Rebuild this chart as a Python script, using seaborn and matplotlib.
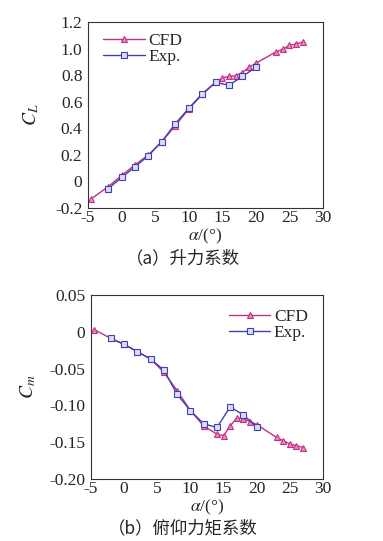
import numpy as np
import pandas as pd
import matplotlib
matplotlib.use('Agg')
import matplotlib.pyplot as plt
from matplotlib.ticker import MultipleLocator
import seaborn as sns

# ── Data ─────────────────────────────────────────────────────────────────────
alpha_cfd = [-4.5, -2, 0, 2, 4, 6, 8, 10, 12, 14, 15, 16, 17, 18, 19, 20, 23, 24, 25, 26, 27]
cl_cfd = [-0.13, -0.04, 0.045, 0.125, 0.20, 0.30, 0.42, 0.545, 0.655, 0.745, 0.78, 0.79, 0.795, 0.82, 0.86, 0.89,
          0.975, 0.995, 1.025, 1.035, 1.05]
cm_cfd = [0.003, -0.009, -0.017, -0.027, -0.037, -0.055, -0.080, -0.107, -0.128, -0.139, -0.141, -0.128,
          -0.117, -0.118, -0.122, -0.126, -0.1435, -0.148, -0.1525, -0.1545, -0.1575]

alpha_exp = [-2, 0, 2, 4, 6, 8, 10, 12, 14, 16, 18, 20]
cl_exp = [-0.055, 0.03, 0.11, 0.195, 0.30, 0.435, 0.55, 0.66, 0.745, 0.725, 0.79, 0.86]
cm_exp = [-0.009, -0.017, -0.027, -0.037, -0.052, -0.085, -0.107, -0.125, -0.130, -0.102, -0.113, -0.129]

cl_ticks = [-0.2, 0, 0.2, 0.4, 0.6, 0.8, 1.0, 1.2]
cl_ticklabels = ['-0.2', '0', '0.2', '0.4', '0.6', '0.8', '1.0', '1.2']
cm_ticks = [-0.2, -0.15, -0.1, -0.05, 0, 0.05]
cm_ticklabels = ['-0.20', '-0.15', '-0.10', '-0.05', '0', '0.05']

CFD_COL = '#c2307f'
EXP_COL = '#4040b0'

sns.set_theme(style='white')
plt.rcParams['font.family'] = ['Liberation Serif', 'DejaVu Sans']
plt.rcParams['mathtext.fontset'] = 'stix'
plt.rcParams['axes.unicode_minus'] = False

df_cfd = pd.DataFrame({'alpha': alpha_cfd, 'CL': cl_cfd, 'Cm': cm_cfd})
df_exp = pd.DataFrame({'alpha': alpha_exp, 'CL': cl_exp, 'Cm': cm_exp})

fig = plt.figure(figsize=(3.83, 5.41), dpi=100)
ax1 = fig.add_axes([0.2298, 0.6155, 0.6136, 0.3438])
ax2 = fig.add_axes([0.2376, 0.1146, 0.6057, 0.3400])


def draw(ax, col, ylim, ticks, ticklabels, minor, ylabel, label_x, xlabel_y,
         legend_loc, legend_anchor):
    sns.lineplot(data=df_cfd, x='alpha', y=col, ax=ax, color=CFD_COL, lw=1.0,
                 marker='^', markersize=4.5, markerfacecolor='#e38cc4',
                 markeredgecolor=CFD_COL, markeredgewidth=0.8, label='CFD')
    sns.lineplot(data=df_exp, x='alpha', y=col, ax=ax, color=EXP_COL, lw=1.0,
                 marker='s', markersize=4.5, markerfacecolor='#dcdcf4',
                 markeredgecolor=EXP_COL, markeredgewidth=0.8, label='Exp.')
    ax.set_xlim(-5, 30)
    ax.set_ylim(*ylim)
    ax.xaxis.set_major_locator(MultipleLocator(5))
    ax.xaxis.set_minor_locator(MultipleLocator(1))
    ax.set_yticks(ticks)
    ax.set_yticklabels(ticklabels)
    ax.yaxis.set_minor_locator(MultipleLocator(minor))
    ax.tick_params(which='both', direction='in', top=False, right=False,
                   labelsize=12.5, color='black')
    ax.tick_params(axis='x', pad=1.5)
    ax.tick_params(axis='y', pad=4)
    ax.tick_params(which='major', length=6, width=0.8)
    ax.tick_params(which='minor', length=3.5, width=0.8)
    for s in ax.spines.values():
        s.set_color('#333333')
        s.set_linewidth(0.8)
    ax.set_xlabel(r'$\alpha$/(°)', fontsize=12.5)
    ax.xaxis.set_label_coords(0.5, xlabel_y)
    ax.set_ylabel(ylabel, fontsize=14)
    ax.yaxis.set_label_coords(label_x, 0.5)
    ax.legend(loc=legend_loc, bbox_to_anchor=legend_anchor, frameon=False,
              fontsize=12.5, handlelength=2.4, handletextpad=0.2,
              labelspacing=0.0, borderaxespad=0.2)
    return ax


draw(ax1, 'CL', (-0.2, 1.2), cl_ticks, cl_ticklabels, 0.05, r'$C_L$', -0.2, -0.1,
     'upper left', (0.02, 1.0))
draw(ax2, 'Cm', (-0.2, 0.05), cm_ticks, cm_ticklabels, 0.01, r'$C_m$', -0.23, -0.1,
     'upper right', (0.98, 0.98))

fig.text(0.478, 1 - 258 / 541, '（a）升力系数', ha='center', va='center', fontsize=12.5,
         family=['Noto Sans CJK SC', 'DejaVu Sans'])
fig.text(0.478, 1 - 528 / 541, '（b）俯仰力矩系数', ha='center', va='center', fontsize=12.5,
         family=['Noto Sans CJK SC', 'DejaVu Sans'])

fig.savefig('out.png', dpi=100)
plt.close(fig)
